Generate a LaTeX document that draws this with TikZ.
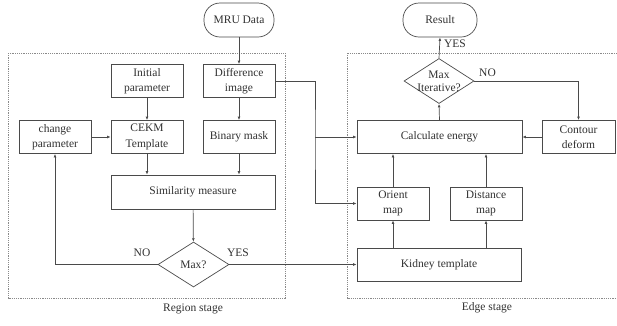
\documentclass[tikz,border=0pt]{standalone}
\usepackage{fontspec}
\setmainfont{Liberation Serif}
\usetikzlibrary{shapes.geometric,arrows.meta}
\definecolor{ln}{HTML}{4A4A4A}
\definecolor{txt}{HTML}{303030}
\definecolor{dsh}{HTML}{8A8A8A}
\begin{document}
\begin{tikzpicture}[x=1pt,y=-1pt,
  every node/.style={font=\fontsize{11.5}{15.5}\selectfont, text=txt},
  box/.style={draw=ln, line width=0.7pt, minimum width=72pt, minimum height=33pt, inner sep=1pt, align=center},
  wide/.style={box, minimum width=164pt},
  term/.style={draw=ln, line width=0.7pt, rounded corners=16pt, minimum width=72pt, minimum height=34pt},
  dia/.style={draw=ln, line width=0.7pt, diamond, minimum width=71pt, minimum height=45pt, inner sep=0pt},
  arr/.style={draw=ln, line width=0.7pt, -{Latex[length=3.5pt,width=2.8pt]}},
  stage/.style={draw=dsh, line width=0.6pt, dash pattern=on 1.2pt off 1pt},
]
\useasboundingbox (0,0) rectangle (617,325);

% stage frames
\draw[stage] (8,53) rectangle (285,298);
\draw[stage] (347,53) rectangle (622,298);

% region stage
\node[term, minimum width=70pt] (mru) at (239,20) {MRU Data};
\node[box] (init) at (147,81) {Initial\\parameter};
\node[box] (diff) at (239,81) {Difference\\image};
\node[box] (change) at (55,137) {change\\parameter};
\node[box] (cekm) at (147,137) {CEKM\\Template};
\node[box] (binary) at (239,137) {Binary mask};
\node[wide, minimum height=34pt] (sim) at (193,192) {Similarity measure};
\node[dia] (max) at (193.5,264.5) {Max?};

% edge stage
\node[term, minimum width=74pt] (result) at (440,20) {Result};
\node[dia, minimum width=70pt] (maxit) at (439,81) {};
\node[align=center, font=\fontsize{11.5}{13}\selectfont] (maxitt) at (maxit) {Max\\Iterative?};
\node[wide, minimum width=165pt] (calc) at (439.5,137) {Calculate energy};
\node[box, minimum width=73pt] (contour) at (578.5,137) {Contour\\deform};
\node[box] (orient) at (393,203.5) {Orient\\map};
\node[box] (distance) at (486,203.5) {Distance\\map};
\node[wide] (kidney) at (439,264.5) {Kidney template};

% labels
\node (lno1) at (142,253) {NO};
\node (lyes1) at (238,253) {YES};
\node (lyes2) at (455,44) {YES};
\node (lno2) at (487.5,73) {NO};
\node (rstage) at (193,309) {Region stage};
\node (estage) at (487,308) {Edge stage};

% connectors, region stage
\draw[arr] (mru) -- (diff);
\draw[arr] (init) -- (cekm);
\draw[arr] (diff) -- (binary);
\draw[arr] (change) -- (cekm);
\draw[arr] (cekm.south) -- (cekm.south |- sim.north);
\draw[arr] (binary.south) -- (binary.south |- sim.north);
\draw[arr] (sim) -- (max);
\draw[arr] (max.west) -| (change.south);
\draw[arr] (max.east) -- (kidney.west);

% connectors, edge stage
\coordinate (j) at (315,137);
\draw[arr] (diff.east) -| (j) |- (orient.west);
\draw[arr] (j) -- (calc.west);
\draw[arr] (calc.north) -- (maxit.south);
\draw[arr] (maxit.north) -- (result.south);
\draw[arr] (maxit.east) -| (contour.north);
\draw[arr] (contour) -- (calc);
\draw[arr] (orient.north) -- (orient.north |- calc.south);
\draw[arr] (distance.north) -- (distance.north |- calc.south);
\draw[arr] (orient.south |- kidney.north) -- (orient.south);
\draw[arr] (distance.south |- kidney.north) -- (distance.south);
\end{tikzpicture}
\end{document}
